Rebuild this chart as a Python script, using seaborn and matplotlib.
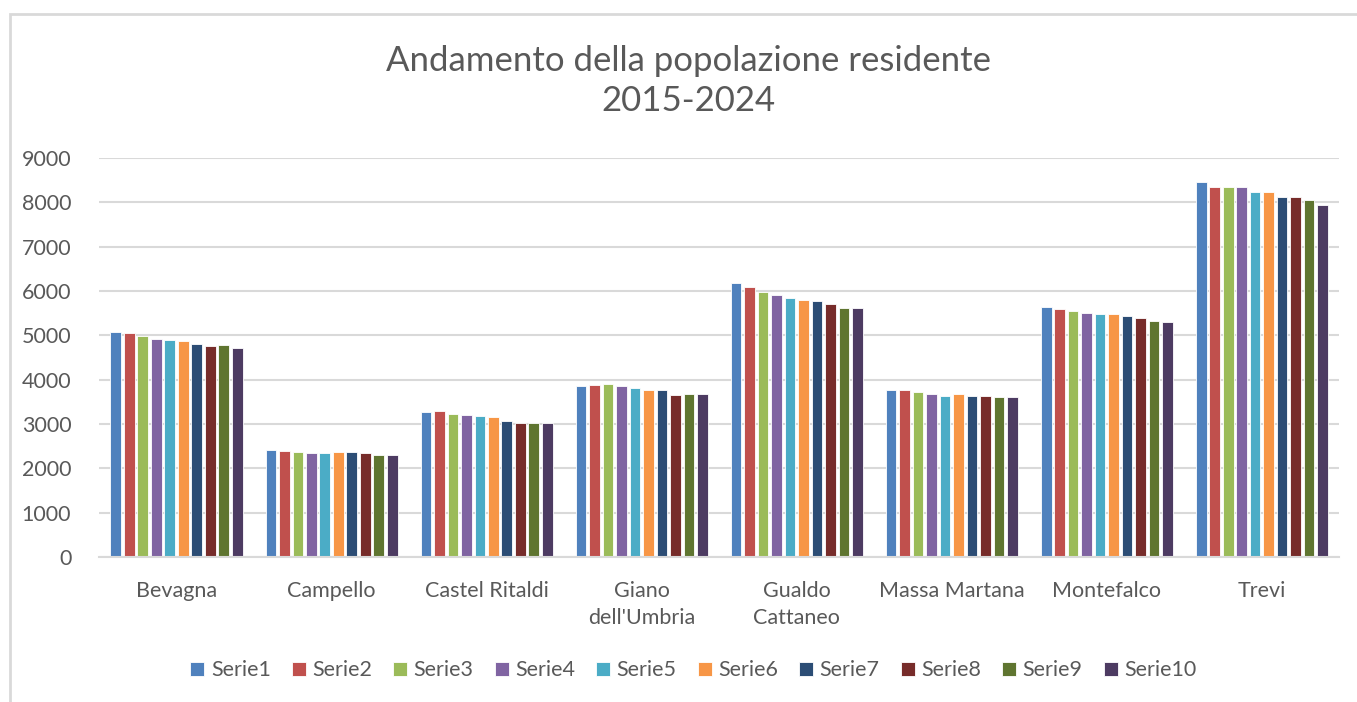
import pandas as pd
import seaborn as sns
import matplotlib.pyplot as plt
from matplotlib.patches import Rectangle

comuni = ["Bevagna", "Campello", "Castel Ritaldi", "Giano\ndell'Umbria",
          "Gualdo\nCattaneo", "Massa Martana", "Montefalco", "Trevi"]
serie_names = ["Serie%d" % i for i in range(1, 11)]

# one list per comune, values for Serie1..Serie10
bevagna = [5075, 5045, 4985, 4925, 4900, 4870, 4810, 4750, 4780, 4720]
campello = [2420, 2390, 2360, 2338, 2338, 2360, 2360, 2338, 2308, 2308]
castel_ritaldi = [3263, 3286, 3233, 3195, 3173, 3150, 3060, 3030, 3030, 3030]
giano = [3848, 3879, 3909, 3848, 3818, 3758, 3758, 3644, 3674, 3674]
gualdo = [6174, 6083, 5970, 5909, 5848, 5795, 5765, 5712, 5621, 5621]
massa_martana = [3767, 3767, 3729, 3669, 3639, 3669, 3639, 3639, 3609, 3609]
montefalco = [5647, 5594, 5556, 5504, 5474, 5474, 5444, 5391, 5331, 5301]
trevi = [8459, 8346, 8346, 8346, 8226, 8226, 8113, 8113, 8053, 7940]

colors = ["#4F81BD", "#C0504D", "#9BBB59", "#8064A2", "#4BACC6",
          "#F79646", "#2C4D75", "#772C2A", "#5F7530", "#4D3B62"]

values = [bevagna, campello, castel_ritaldi, giano, gualdo,
          massa_martana, montefalco, trevi]
rows = []
for comune, vals in zip(comuni, values):
    for s, v in zip(serie_names, vals):
        rows.append({"Comune": comune, "Serie": s, "Popolazione": v})
df = pd.DataFrame(rows)

sns.set_style("white")
plt.rcParams["font.family"] = ["Lato", "DejaVu Sans"]
text_col = "#595959"
grid_col = "#D9D9D9"

fig = plt.figure(figsize=(13.57, 7.02), dpi=100)
ax = fig.add_axes([0.073, 0.2066, 0.914, 0.5684])

sns.barplot(data=df, x="Comune", y="Popolazione", hue="Serie",
            palette=colors, saturation=1, width=0.87, gap=0.2, ax=ax,
            edgecolor="white", linewidth=0.6, legend=True)

ax.set_ylim(0, 9000)
ax.set_yticks(range(0, 9001, 1000))
ax.set_xlim(-0.5, len(comuni) - 0.5)
ax.yaxis.grid(True, color=grid_col, linewidth=1.5)
ax.set_axisbelow(True)
for side in ["left", "right", "top"]:
    ax.spines[side].set_visible(False)
ax.spines["bottom"].set_color(grid_col)
ax.spines["bottom"].set_linewidth(1.5)
ax.tick_params(axis="both", length=0, labelsize=15.5, labelcolor=text_col)
ax.tick_params(axis="y", pad=20)
ax.tick_params(axis="x", pad=17)
for lbl in ax.get_xticklabels():
    lbl.set_linespacing(1.45)
ax.set_xlabel("")
ax.set_ylabel("")

fig.text(0.5075, 0.885, "Andamento della popolazione residente\n2015-2024",
         ha="center", va="center", fontsize=25, color=text_col, linespacing=1.3)

handles, labels = ax.get_legend_handles_labels()
ax.legend_.remove()
fig.legend(handles, labels, loc="center", bbox_to_anchor=(0.511, 0.045),
           ncol=10, frameon=False, fontsize=15.5, labelcolor=text_col,
           handlelength=0.65, handleheight=0.65, handletextpad=0.3,
           columnspacing=0.98)

# chart frame (cropped at right/bottom)
fig.patches.append(Rectangle((10 / 1357, -0.2), 1.5, 1 - 14 / 702 + 0.2,
                             transform=fig.transFigure, fill=False,
                             edgecolor=grid_col, linewidth=2))

fig.savefig("out.png", dpi=100)
